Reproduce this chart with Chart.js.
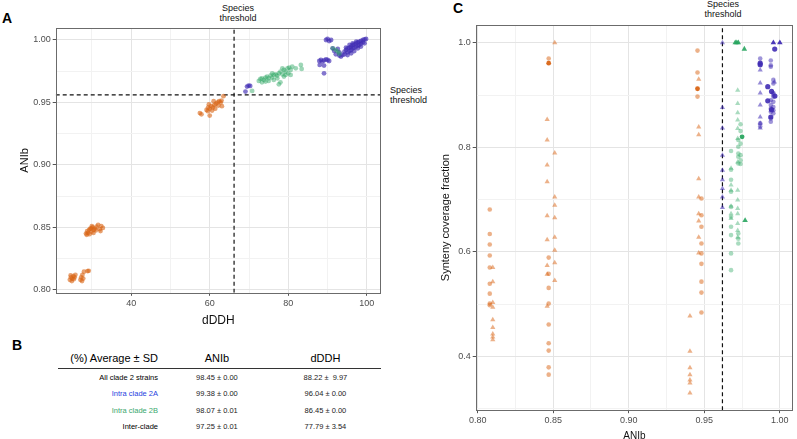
<!DOCTYPE html>
<html>
<head>
  <meta charset="utf-8">
  <title>ANIb / dDDH / synteny</title>
  <script src="https://cdn.jsdelivr.net/npm/chart.js@4"></script>
  <style>
    body { margin: 0; width: 797px; height: 439px; background: #fff; position: relative; overflow: hidden;
      font-family: "Liberation Sans", Arial, Helvetica, sans-serif; color: #000; }
    .box { position: absolute; }
    .lbl { position: absolute; font-size: 9px; line-height: 10px; text-align: center; color: #111; }
    .panel { position: absolute; font-weight: bold; font-size: 14px; }
    table { position: absolute; left: 58px; top: 350px; width: 323px; border-collapse: collapse; font-size: 7.5px; }
    th { font-weight: normal; font-size: 11px; height: 16px; border-bottom: 1px solid #333; padding: 0 0 2px 0; }
    td { height: 16.5px; padding: 0; text-align: center; color: #222; }
    td.name { text-align: right; padding-right: 6px; width: 100px; color: #000; }
  </style>
</head>
<body>

  <div class="panel" style="left:2px; top:10px;">A</div>
  <div class="panel" style="left:12px; top:337px;">B</div>
  <div class="panel" style="left:453px; top:0px;">C</div>

  <div class="lbl" style="left:210px; top:3px; width:56px;">Species<br>threshold</div>
  <div class="lbl" style="left:390px; top:85px; width:40px; text-align:left;">Species<br>threshold</div>
  <div class="lbl" style="left:695px; top:-1px; width:56px;">Species<br>threshold</div>

  <div class="box" style="left:0px; top:0px; width:400px; height:330px;"><canvas id="chartA"></canvas></div>
  <div class="box" style="left:390px; top:0px; width:407px; height:442px;"><canvas id="chartC"></canvas></div>

  <table>
    <tr><th style="text-align:right; padding-right:6px;">(%) Average ± SD</th><th>ANIb</th><th>dDDH</th></tr>
    <tr><td class="name">All clade 2 strains</td><td>98.45 ± 0.00</td><td>88.22 ±&nbsp; 9.97</td></tr>
    <tr><td class="name" style="color:#1f3fe0;">Intra clade 2A</td><td>99.38 ± 0.00</td><td>96.04 ± 0.00</td></tr>
    <tr><td class="name" style="color:#3aa86e;">Intra clade 2B</td><td>98.07 ± 0.01</td><td>86.45 ± 0.00</td></tr>
    <tr><td class="name">Inter-clade</td><td>97.25 ± 0.01</td><td>77.79 ± 3.54</td></tr>
  </table>

  <script>
    // ---- panel A : dDDH vs ANIb, pairs [dDDH, ANIb]
    const aInter = [
      [24.4,0.808],[24.7,0.810],[25.0,0.809],[25.3,0.811],[25.6,0.810],[24.9,0.807],[25.4,0.8085],[25.8,0.812],
      [24.6,0.8115],[27.1,0.808],[27.3,0.810],[27.6,0.812],[27.8,0.809],[28.0,0.8145],[27.5,0.807],[28.9,0.815],[29.2,0.8152],
      [28.5,0.845],[28.8,0.847],[29.0,0.8455],[29.3,0.848],[29.6,0.849],[29.9,0.8465],[30.2,0.850],[30.5,0.848],
      [28.7,0.844],[29.4,0.8445],[30.0,0.851],[30.8,0.849],[31.2,0.8505],[31.6,0.852],[32.0,0.8485],[32.4,0.851],
      [32.8,0.8495],[32.2,0.847],[31.0,0.8475],[29.8,0.849],[30.4,0.8455],
      [59.2,0.944],[59.6,0.946],[60.0,0.945],[60.4,0.947],[60.8,0.946],[61.2,0.948],[61.6,0.949],[62.0,0.950],
      [62.4,0.951],[62.8,0.950],[59.8,0.9485],[60.6,0.9435],[61.4,0.945],[62.2,0.9475],[63.1,0.947],[63.5,0.955],
      [57.5,0.9415],[57.9,0.9405],[60.0,0.9395],[63.0,0.9515],[61.0,0.951],[59.5,0.943]
    ];
    const aClade2B = [
      [72.5,0.9672],[72.9,0.9688],[73.3,0.9693],[73.8,0.968],[74.2,0.9699],[74.6,0.9707],[75.0,0.9693],[75.5,0.9715],
      [75.9,0.9699],[76.3,0.972],[76.8,0.9725],[77.2,0.9715],[77.6,0.9733],[78.0,0.9747],[78.5,0.9725],[78.9,0.976],
      [79.3,0.9747],[79.8,0.9773],[80.2,0.9779],[80.6,0.976],[81.0,0.9787],[77.6,0.9645],[78.0,0.9661],[76.3,0.968],
      [75.0,0.9672],[79.3,0.972],[80.0,0.9733],[81.9,0.9773],[83.2,0.980],[83.4,0.9768],[78.5,0.9773],[77.2,0.9693],
      [73.3,0.9661],[70.8,0.9592],[75.9,0.9733],[78.9,0.9707],[80.6,0.972],[74.2,0.9667],
      [92.1,0.992],[92.6,0.9907],[91.3,0.9933],[93.0,0.989]
    ];
    const aClade2A = [
      [69.5,0.9627],[69.9,0.9635],[70.3,0.9632],[69.1,0.9587],[87.9,0.9832],[88.3,0.984],[88.7,0.9827],[89.1,0.9837],
      [89.6,0.9845],[90.0,0.984],[90.4,0.9832],[88.0,0.980],[89.1,0.9795],[89.1,0.9733],[89.6,1.000],[90.0,1.0008],
      [90.4,0.9992],[90.9,1.000],[91.3,0.9933],[91.7,0.9912],[92.1,0.9885],[93.0,0.9875],[92.6,0.9928],[93.8,0.988],
      [94.3,0.9907],[94.7,0.992],[95.1,0.9933],[95.6,0.9939],[96.0,0.9947],[96.4,0.996],[96.8,0.9965],[97.3,0.9973],
      [97.7,0.9981],[98.1,0.9987],[98.5,0.9992],[99.0,1.000],[99.4,1.0005],[99.8,1.0008],[95.1,0.9901],[95.6,0.9912],
      [96.0,0.992],[96.4,0.9933],[96.8,0.9939],[97.3,0.9947],[97.7,0.9955],[98.1,0.996],[98.5,0.9971],[99.0,0.9981],
      [95.6,0.996],[96.4,0.9973],[97.3,0.9987],[94.7,0.9939],[94.3,0.9885],[95.1,0.988],[93.0,0.9901],[93.4,0.9867],
      [96.0,0.9893],[96.8,0.9912],[97.7,0.9933],[98.5,0.9947],[99.4,0.9973]
    ];
    const aThresholdDDH = 66.2;
    const aThresholdANI = 0.956;
    const aRangeDDH = [20.8, 103.6];
    const aRangeANI = [0.7976, 1.0096];
    const aGridDDH = [30, 40, 50, 60, 70, 80, 90, 100];
    const aLabelDDH = [40, 60, 80, 100];
    const aGridANI = [0.8, 0.825, 0.85, 0.875, 0.9, 0.925, 0.95, 0.975, 1.0];
    const aLabelANI = [0.8, 0.85, 0.9, 0.95, 1.0];

    // ---- panel C : ANIb vs synteny coverage fraction, pairs [ANIb, fraction]
    const cInterCircles = [
      [0.808,0.681],[0.808,0.634],[0.808,0.614],[0.808,0.593],[0.808,0.570],[0.808,0.539],[0.808,0.520],[0.808,0.501],[0.808,0.498],
      [0.847,0.970],[0.847,0.589],[0.847,0.558],[0.847,0.531],[0.847,0.501],[0.847,0.461],[0.847,0.425],[0.847,0.411],[0.847,0.379],[0.847,0.365],
      [0.9455,0.985],[0.9455,0.943],[0.9455,0.897],
      [0.9481,0.702],[0.9481,0.670],[0.9481,0.648],[0.9481,0.616],[0.9481,0.597],[0.9481,0.577],[0.9481,0.543],[0.9481,0.522],[0.9481,0.484]
    ];
    const cInterTriangles = [
      [0.810,0.570],[0.810,0.543],[0.810,0.503],[0.810,0.494],[0.810,0.470],[0.810,0.455],[0.810,0.443],[0.810,0.437],[0.810,0.432],
      [0.846,0.853],[0.846,0.814],[0.846,0.766],[0.846,0.734],[0.846,0.669],[0.846,0.623],[0.846,0.574],[0.846,0.557],[0.846,0.496],
      [0.851,1.000],[0.851,0.789],[0.851,0.705],[0.851,0.689],[0.851,0.665],[0.851,0.628],[0.851,0.603],[0.851,0.579],[0.851,0.545],
      [0.9405,0.477],[0.9405,0.410],[0.9405,0.378],[0.9405,0.365],[0.9405,0.355],[0.9405,0.349],[0.9405,0.330],
      [0.9463,0.930],[0.9463,0.839],[0.9463,0.824],[0.9463,0.740],[0.9463,0.705],[0.9463,0.673],[0.9463,0.659],[0.9463,0.628],[0.9463,0.598]
    ];
    const cInterStrong = [[0.847,0.961],[0.9455,0.912]];

    const cClade2BCircles = [
      [0.9677,0.793],[0.9677,0.757],[0.9677,0.738],[0.9677,0.715],[0.9677,0.686],[0.9677,0.667],[0.9677,0.648],[0.9677,0.632],[0.9677,0.597],[0.9677,0.565],
      [0.9725,0.814],[0.9725,0.801],[0.9725,0.788],[0.9725,0.782],[0.9725,0.769],[0.9725,0.635],[0.9725,0.625],[0.9725,0.616],
      [0.974,0.844],[0.974,0.831],[0.974,0.807],[0.974,0.785],[0.974,0.775],[0.974,0.768]
    ];
    const cClade2BTriangles = [
      [0.9677,0.760],[0.9677,0.728],[0.9677,0.718],[0.9677,0.687],[0.9677,0.673],[0.9677,0.664],
      [0.9721,0.909],[0.9721,0.884],[0.9721,0.866],[0.9721,0.852],[0.9721,0.836],[0.9721,0.817],[0.9721,0.772],
      [0.9721,0.718],[0.9721,0.699],[0.9721,0.683],[0.9721,0.673],[0.9721,0.654],[0.9721,0.641],[0.9721,0.628]
    ];
    const cClade2BStrongCircles = [[0.975,0.820]];
    const cClade2BStrongTriangles = [[0.9705,1.0],[0.9715,1.0],[0.9725,1.0],[0.9765,0.988],[0.977,0.660]];

    const cClade2ACircles = [
      [0.987,0.970],[0.987,0.846],[0.987,0.840],
      [0.994,0.966],[0.994,0.957],[0.994,0.954],[0.994,0.890],[0.994,0.881],[0.994,0.874],[0.994,0.868],[0.994,0.855],[0.994,0.849],
      [0.9957,0.929],[0.9957,0.922],[0.9957,0.904],[0.9957,0.902],[0.9957,0.897],[0.9957,0.887],[0.9957,0.877],[0.9957,0.871],[0.9957,0.865]
    ];
    const cClade2ATriangles = [
      [0.962,1.000],[0.962,0.876],[0.962,0.837],[0.962,0.785],[0.962,0.756],[0.962,0.738],[0.962,0.721],[0.962,0.705],[0.962,0.685],
      [0.987,0.948],[0.987,0.923],[0.987,0.904],[0.987,0.881],[0.987,0.858],[0.987,0.846],[0.987,0.837],
      [0.9964,0.925]
    ];
    const cClade2AStrongCircles = [
      [0.987,0.961],[0.987,0.958],[0.992,0.916],[0.9945,0.907],[0.9967,0.898],[0.992,0.889],[0.994,0.858],[0.9966,0.988],[0.9945,0.872]
    ];
    const cClade2AStrongTriangles = [[0.9957,1.0],[1.0,1.0]];

    const cThresholdANI = 0.962;
    const cRangeANI = [0.7987, 1.0087];
    const cRangeSyn = [0.297, 1.034];
    const cGridANI = [0.8, 0.825, 0.85, 0.875, 0.9, 0.925, 0.95, 0.975, 1.0];
    const cLabelANI = [0.8, 0.85, 0.9, 0.95, 1.0];
    const cGridSyn = [0.3, 0.4, 0.5, 0.6, 0.7, 0.8, 0.9, 1.0];
    const cLabelSyn = [0.4, 0.6, 0.8, 1.0];

    const ORANGE = 'rgba(217,100,20,', GREEN = 'rgba(40,165,95,', PURPLE = 'rgba(64,44,180,';
    const FONT = '"Liberation Sans", Arial, sans-serif';

    function pts(arr) { return arr.map(p => ({ x: p[0], y: p[1] })); }

    const frame = {
      id: 'frame',
      afterDraw(chart) {
        const a = chart.chartArea, c = chart.ctx;
        c.save();
        c.strokeStyle = '#6b6b6b';
        c.lineWidth = 1;
        c.strokeRect(Math.round(a.left) + 0.5, Math.round(a.top) + 0.5, Math.round(a.right - a.left) - 1, Math.round(a.bottom - a.top));
        c.restore();
      }
    };

    function axis(range, grid, labels, digits, title, titleSize, pos, titlePad) {
      return {
        type: 'linear', position: pos, min: range[0], max: range[1],
        afterBuildTicks: s => { s.ticks = grid.map(v => ({ value: v })); },
        ticks: {
          autoSkip: false, maxRotation: 0, padding: 2, color: '#4d4d4d',
          font: { family: FONT, size: 9 },
          callback: v => labels.includes(v) ? v.toFixed(digits) : ''
        },
        grid: {
          color: ctx => labels.includes(ctx.tick && ctx.tick.value) ? '#e4e4e4' : '#f2f2f2',
          tickColor: ctx => labels.includes(ctx.tick && ctx.tick.value) ? '#555' : 'rgba(0,0,0,0)',
          tickLength: 3, lineWidth: 1
        },
        border: { display: false },
        title: { display: true, text: title, color: '#111', font: { family: FONT, size: titleSize }, padding: titlePad }
      };
    }

    function threshLine(data) {
      return { type: 'line', data: data, borderColor: '#111', borderWidth: 1.2, borderDash: [4, 3],
        pointRadius: 0, showLine: true, fill: false };
    }

    function scatter(arr, color, style, radius) {
      return { type: 'scatter', data: pts(arr), pointStyle: style, pointRadius: radius,
        backgroundColor: color, borderWidth: 0, borderColor: color };
    }

    const common = {
      responsive: true, maintainAspectRatio: false, animation: false,
      plugins: { legend: { display: false }, tooltip: { enabled: false } }
    };

    new Chart(document.getElementById('chartA'), {
      type: 'scatter',
      data: {
        datasets: [
          scatter(aInter, ORANGE + '0.6)', 'circle', 2.4),
          scatter(aClade2B, GREEN + '0.45)', 'circle', 2.4),
          scatter(aClade2A, PURPLE + '0.65)', 'circle', 2.4),
          threshLine([{ x: aThresholdDDH, y: aRangeANI[0] }, { x: aThresholdDDH, y: aRangeANI[1] }]),
          threshLine([{ x: aRangeDDH[0], y: aThresholdANI }, { x: aRangeDDH[1], y: aThresholdANI }])
        ]
      },
      options: Object.assign({}, common, {
        layout: { padding: { left: 18, right: 19, top: 28, bottom: 0 } },
        scales: {
          x: axis(aRangeDDH, aGridDDH, aLabelDDH, 0, 'dDDH', 12, 'bottom', { top: 3, bottom: 2 }),
          y: axis(aRangeANI, aGridANI, aLabelANI, 2, 'ANIb', 11, 'left', { top: 0, bottom: 0 })
        }
      }),
      plugins: [frame]
    });

    new Chart(document.getElementById('chartC'), {
      type: 'scatter',
      data: {
        datasets: [
          scatter(cInterCircles, ORANGE + '0.5)', 'circle', 2.3),
          scatter(cInterTriangles, ORANGE + '0.5)', 'triangle', 3),
          scatter(cClade2BCircles, GREEN + '0.4)', 'circle', 2.3),
          scatter(cClade2BTriangles, GREEN + '0.4)', 'triangle', 3),
          scatter(cClade2ACircles, PURPLE + '0.5)', 'circle', 2.3),
          scatter(cClade2ATriangles, PURPLE + '0.55)', 'triangle', 3),
          threshLine([{ x: cThresholdANI, y: cRangeSyn[0] }, { x: cThresholdANI, y: cRangeSyn[1] }]),
          scatter(cInterStrong, ORANGE + '0.95)', 'circle', 2.4),
          scatter(cClade2BStrongCircles, GREEN + '0.95)', 'circle', 2.4),
          scatter(cClade2BStrongTriangles, GREEN + '0.9)', 'triangle', 3.2),
          scatter(cClade2AStrongCircles, PURPLE + '0.9)', 'circle', 2.6),
          scatter(cClade2AStrongTriangles, PURPLE + '0.95)', 'triangle', 3.2)
        ]
      },
      options: Object.assign({}, common, {
        layout: { padding: { left: 47, right: -2, top: 25, bottom: 0 } },
        scales: {
          x: axis(cRangeANI, cGridANI, cLabelANI, 2, 'ANIb', 10, 'bottom', { top: 2, bottom: 0 }),
          y: axis(cRangeSyn, cGridSyn, cLabelSyn, 1, 'Synteny coverage fraction', 11, 'left', { top: 2, bottom: 4 })
        }
      }),
      plugins: [frame]
    });
  </script>
</body>
</html>
